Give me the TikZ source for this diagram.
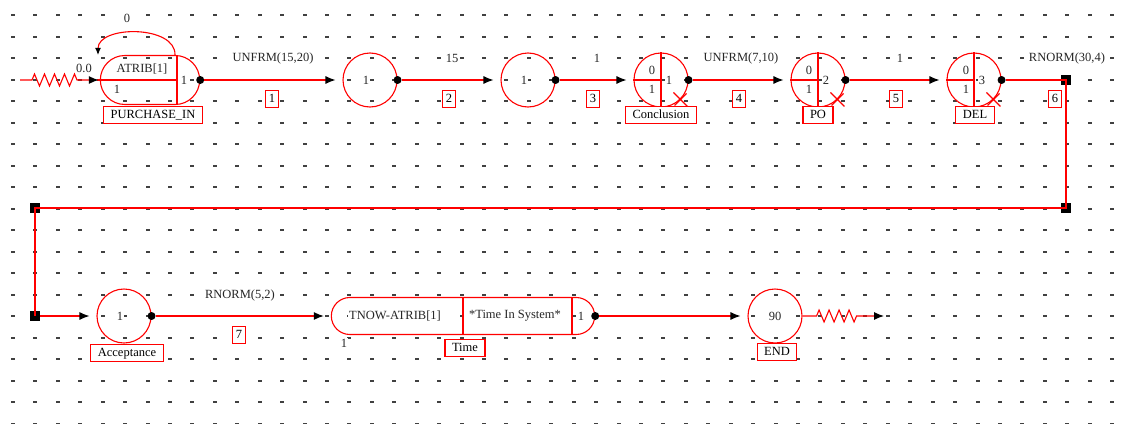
\documentclass[tikz,border=0pt]{standalone}
\usepackage{fontspec}
\setmainfont{Liberation Serif}
\usetikzlibrary{shapes,arrows.meta,decorations.pathmorphing}

\tikzset{
  net/.style={draw=red, line width=1.1pt},
  act/.style={net, -{Latex[black,length=10pt,width=8pt]}, shorten >=7pt},
  qnode/.style={net, circle, minimum size=54pt, inner sep=0pt},
  numbox/.style={draw=red, fill=white, line width=1.1pt, inner xsep=3.5pt, inner ysep=2.5pt, text height=9pt, text depth=2.5pt},
  tagbox/.style={numbox, inner xsep=7pt},
  txt/.style={text=black!85, fill=white, inner sep=1pt},
  outdot/.style={circle, fill=black, inner sep=0pt, minimum size=8pt},
  junc/.style={fill=black, inner sep=0pt, minimum size=10pt},
  spring/.style={decorate, decoration={zigzag, segment length=10pt, amplitude=6pt, pre length=12pt, post length=22pt}},
}

\begin{document}
\begin{tikzpicture}[x=1pt, y=-1pt, font=\fontsize{12.5}{14}\selectfont]
\useasboundingbox (0,0) rectangle (1129,423);
% grid dots
\foreach \i in {0,...,49}
  \foreach \j in {0,...,19}
    \fill[black!75] ({11+22.43*\i}, {14+21.5*\j}) rectangle ++(4,2);

% create node
\coordinate (src) at (20,80);
\node[net, rounded rectangle, minimum width=106pt, minimum height=49pt] (atrib) at (150,80) {};
\draw[net] (177,55.5) -- (177,104.5);
\draw[net] (97,80) -- (177,80);
\node[txt] at (142,69) {ATRIB[1]};
\node[txt] at (117,89) {1};
\node[txt] at (184,80) {1};
\node[txt] at (84,68) {0.0};
\node[outdot] (o1) at (atrib.east) {};
\draw[net, spring, -{Latex[black,length=10pt,width=8pt]}, shorten >=1pt] (src) -- (atrib.west);
% self loop
\draw[net, -{Latex[black,length=7pt,width=6pt]}] ([xshift=25pt]atrib.north) .. controls (176,25) and (98,25) .. ([xshift=-52pt]atrib.north);
\node[txt] at (127,18) {0};
\node[tagbox] (t1) at (153,115) {PURCHASE\_IN};

% simple nodes
\node[qnode] (q2) at (370,80) {};
\node[txt] at (366,80) {1};
\node[outdot] (o2) at (q2.east) {};
\node[qnode] (q3) at (528,80) {};
\node[txt] at (524,80) {1};
\node[outdot] (o3) at (q3.east) {};

% queue nodes
\node[qnode] (conc) at (661,80) {};
\draw[net] (conc.north) -- (conc.south) (conc.west) -- (conc.center);
\draw[net] (conc.south east) +(-7,-7) -- +(7,7) +(6,-6) -- +(-6,6);
\node[txt] at (652,70) {0};
\node[txt] at (652,89) {1};
\node[txt] at (669,80) {1};
\node[outdot] (o4) at (conc.east) {};
\node[tagbox] (t4) at (661,115) {Conclusion};

\node[qnode] (po) at (818,80) {};
\draw[net] (po.north) -- (po.south) (po.west) -- (po.center);
\draw[net] (po.south east) +(-7,-7) -- +(7,7) +(6,-6) -- +(-6,6);
\node[txt] at (809,70) {0};
\node[txt] at (809,89) {1};
\node[txt] at (826,80) {2};
\node[outdot] (o5) at (po.east) {};
\node[tagbox] (t5) at (818,115) {PO};

\node[qnode] (del) at (974,80) {};
\draw[net] (del.north) -- (del.south) (del.west) -- (del.center);
\draw[net] (del.south east) +(-7,-7) -- +(7,7) +(6,-6) -- +(-6,6);
\node[txt] at (966,70) {0};
\node[txt] at (966,89) {1};
\node[txt] at (982,80) {3};
\node[outdot] (o6) at (del.east) {};
\node[tagbox] (t6) at (975,115) {DEL};

% top row activities
\draw[act] (o1) -- (q2);
\draw[act] (o2) -- (q3);
\draw[act] (o3) -- (conc);
\draw[act] (o4) -- (po);
\draw[act] (o5) -- (del);
\node[txt] at (273,58) {UNFRM(15,20)};
\node[txt] at (452,58) {15};
\node[txt] at (597,58) {1};
\node[txt] at (741,58) {UNFRM(7,10)};
\node[txt] at (900,58) {1};
\node[txt] at (1067,58) {RNORM(30,4)};
\node[numbox] at (272,99) {1};
\node[numbox] at (449,99) {2};
\node[numbox] at (593,99) {3};
\node[numbox] at (739,99) {4};
\node[numbox] at (896,99) {5};
\node[numbox] at (1055,99) {6};

% return path
\node[junc] (j1) at (1066,80) {};
\node[junc] (j2) at (1066,208) {};
\node[junc] (j3) at (35,208) {};
\node[junc] (j4) at (35,316) {};
\draw[net] (o6) -- (j1.center) -- (j2.center) -- (j3.center) -- (j4.center);

% bottom row
\node[qnode] (acc) at (124,316) {};
\node[txt] at (120,316) {1};
\node[outdot] (o7) at (acc.east) {};
\node[tagbox] (t7) at (127,353) {Acceptance};
\draw[act] (j4) -- (acc);

\node[net, rounded rectangle, minimum width=270pt, minimum height=37pt] (time) at (463,316) {};
\draw[net] (time.north) -- (time.south);
\draw[net] (572,297.5) -- (572,334.5);
\node[txt] at (395,316) {TNOW-ATRIB[1]};
\node[txt] at (515,316) {*Time In System*};
\node[txt] at (581,316) {1};
\node[txt] at (344,343) {1};
\node[outdot] (o8) at (time.east) {};
\node[tagbox] (t8) at (465,348) {Time};
\draw[act] (o7) -- (time);
\node[txt] at (240,295) {RNORM(5,2)};
\node[numbox] at (239,335) {7};

\node[qnode] (end) at (775,316) {};
\node[txt] at (775,316) {90};
\node[tagbox] (t9) at (777,352) {END};
\draw[act] (o8) -- (end);
\coordinate (sink) at (884,316);
\draw[net, decorate, decoration={zigzag, segment length=10pt, amplitude=6pt, pre length=14pt, post length=26pt}, -{Latex[black,length=10pt,width=8pt]}] (end.east) -- (sink);
\end{tikzpicture}
\end{document}
